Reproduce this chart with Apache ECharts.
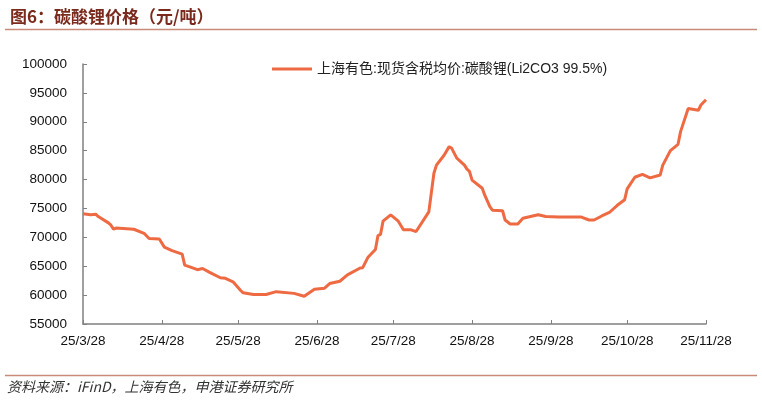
<!DOCTYPE html>
<html>
<head>
<meta charset="utf-8">
<script src="https://cdn.jsdelivr.net/npm/echarts@6/dist/echarts.min.js"></script>
<style>
  html, body { margin: 0; padding: 0; background: #fff; }
  #main { width: 762px; height: 403px; }
</style>
</head>
<body>
<div id="main"></div>
<script>
// 上海有色 碳酸锂现货含税均价
var dates = [
  '2025-03-28', '2025-03-31', '2025-04-02', '2025-04-03', '2025-04-07', '2025-04-08',
  '2025-04-09', '2025-04-10', '2025-04-17', '2025-04-21', '2025-04-23', '2025-04-27',
  '2025-04-29', '2025-05-02', '2025-05-06', '2025-05-07', '2025-05-09', '2025-05-12',
  '2025-05-14', '2025-05-17', '2025-05-21', '2025-05-23', '2025-05-26', '2025-05-29',
  '2025-05-30', '2025-06-03', '2025-06-08', '2025-06-12', '2025-06-19', '2025-06-23',
  '2025-06-27', '2025-07-01', '2025-07-03', '2025-07-07', '2025-07-10', '2025-07-15',
  '2025-07-16', '2025-07-18', '2025-07-21', '2025-07-22', '2025-07-23', '2025-07-24',
  '2025-07-27', '2025-07-30', '2025-08-01', '2025-08-04', '2025-08-06', '2025-08-11',
  '2025-08-13', '2025-08-14', '2025-08-17', '2025-08-19', '2025-08-20', '2025-08-22',
  '2025-08-25', '2025-08-26', '2025-08-27', '2025-08-28', '2025-09-01', '2025-09-02',
  '2025-09-04', '2025-09-05', '2025-09-09', '2025-09-10', '2025-09-12', '2025-09-15',
  '2025-09-17', '2025-09-23', '2025-09-26', '2025-10-01', '2025-10-10', '2025-10-13',
  '2025-10-15', '2025-10-18', '2025-10-21', '2025-10-24', '2025-10-27', '2025-10-28',
  '2025-10-31', '2025-11-03', '2025-11-06', '2025-11-10', '2025-11-11', '2025-11-14',
  '2025-11-17', '2025-11-18', '2025-11-21', '2025-11-25', '2025-11-26', '2025-11-28'
];
var prices = [
  74100, 73900, 74000, 73600, 72500, 72100,
  71400, 71600, 71400, 70700, 69800, 69700,
  68300, 67700, 67100, 65200, 64900, 64400,
  64600, 63900, 63000, 62900, 62300, 60800,
  60400, 60100, 60100, 60600, 60300, 59800,
  61000, 61200, 62000, 62400, 63500, 64700,
  64750, 66500, 67900, 70300, 70500, 72800,
  73900, 72800, 71300, 71300, 71000, 74400,
  81100, 82500, 84200, 85700, 85400, 83700,
  82500, 81800, 81400, 79900, 78500, 77300,
  75300, 74700, 74600, 73000, 72300, 72300,
  73300, 73900, 73600, 73500, 73500, 73000,
  73000, 73700, 74300, 75500, 76500, 78400,
  80400, 80900, 80300, 80800, 82500, 85000,
  86100, 88300, 92300, 92000, 92900, 93800
];
var tickDates = [
  '2025-03-28', '2025-04-28', '2025-05-28', '2025-06-28', '2025-07-28',
  '2025-08-28', '2025-09-28', '2025-10-28', '2025-11-28'
];
var seriesName = '上海有色:现货含税均价:碳酸锂(Li2CO3 99.5%)';

function toTs(s) {
  var p = s.split('-');
  return new Date(+p[0], +p[1] - 1, +p[2]).getTime();
}

var lineData = dates.map(function (d, i) { return [toTs(d), prices[i]]; });
var tickTs = tickDates.map(toTs);

var chart = echarts.init(document.getElementById('main'));

var option = {
  animation: false,
  title: {
    text: '图6：碳酸锂价格（元/吨）',
    left: 5,
    top: 3,
    textStyle: {
      color: '#7a2a1c',
      fontSize: 17,
      fontWeight: 'bold',
      fontFamily: 'Noto Sans CJK SC'
    }
  },
  graphic: [
    {
      type: 'line',
      shape: { x1: 5, y1: 29.5, x2: 757, y2: 29.5 },
      style: { stroke: '#c98a78', lineWidth: 1.5 }
    },
    {
      type: 'line',
      shape: { x1: 5, y1: 375.5, x2: 757, y2: 375.5 },
      style: { stroke: '#c98a78', lineWidth: 1.5 }
    },
    {
      type: 'text',
      left: 7,
      top: 380,
      style: {
        text: '资料来源：iFinD，上海有色，申港证券研究所',
        fill: '#333',
        fontSize: 14,
        fontStyle: 'italic',
        fontFamily: 'Noto Sans CJK SC'
      }
    }
  ],
  legend: {
    top: 57,
    left: 267,
    icon: 'rect',
    itemWidth: 40,
    itemHeight: 3,
    itemGap: 6,
    textStyle: { color: '#222', fontSize: 14, fontFamily: 'Liberation Sans, Noto Sans CJK SC' },
    data: [seriesName]
  },
  grid: { left: 83, right: 56, top: 64, bottom: 79, containLabel: false },
  xAxis: {
    type: 'value',
    min: tickTs[0],
    max: tickTs[tickTs.length - 1],
    splitLine: { show: false },
    axisLine: { lineStyle: { color: '#808080', width: 1.5 } },
    axisTick: { show: true, inside: true, length: 4, customValues: tickTs, lineStyle: { color: '#808080' } },
    axisLabel: {
      customValues: tickTs,
      color: '#111',
      fontSize: 13.5,
      fontFamily: 'Liberation Sans',
      margin: 10,
      formatter: function (v) {
        var d = new Date(v);
        return (d.getFullYear() % 100) + '/' + (d.getMonth() + 1) + '/' + d.getDate();
      }
    }
  },
  yAxis: {
    type: 'value',
    min: 55000,
    max: 100000,
    interval: 5000,
    splitLine: { show: false },
    axisLine: { show: true, lineStyle: { color: '#808080', width: 1.5 } },
    axisTick: { show: true, inside: true, length: 4, lineStyle: { color: '#808080' } },
    axisLabel: {
      color: '#111',
      fontSize: 13.5,
      fontFamily: 'Liberation Sans',
      margin: 16,
      formatter: function (v) { return String(v); }
    }
  },
  series: [{
    name: seriesName,
    type: 'line',
    data: lineData,
    symbol: 'none',
    smooth: false,
    lineStyle: { color: '#ee6a42', width: 3 },
    itemStyle: { color: '#ee6a42' }
  }]
};

chart.setOption(option);
</script>
</body>
</html>
